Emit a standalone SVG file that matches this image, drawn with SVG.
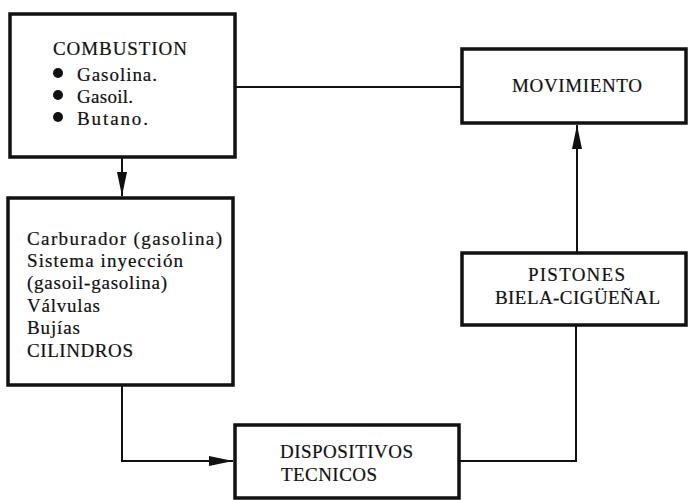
<svg xmlns="http://www.w3.org/2000/svg" width="688" height="500" viewBox="0 0 688 500">
<style>
.box{fill:#fff;stroke:#111;stroke-width:3.5}
.conn{fill:none;stroke:#111;stroke-width:2}
text{font-family:"Liberation Serif","Times New Roman",serif;font-size:19px;fill:#111;stroke:#111;stroke-width:0.2}
</style>
<defs>
<marker id="arr" markerUnits="userSpaceOnUse" markerWidth="26" markerHeight="12" refX="24" refY="5" orient="auto">
<path d="M0,0 L24,5 L0,10 Z" fill="#111"/>
</marker>
</defs>
<rect width="688" height="500" fill="#fff"/>
<g id="connectors">
<path class="conn" d="M122,158 V196" marker-end="url(#arr)"/>
<path class="conn" d="M122,386 V461 H233" marker-end="url(#arr)"/>
<path class="conn" d="M460,461 H576 V326"/>
<path class="conn" d="M577,252 V125" marker-end="url(#arr)"/>
<path class="conn" d="M236,87 H461"/>
</g>
<g id="combustion">
<rect class="box" x="10" y="14" width="225" height="143"/>
<text x="53" y="55" textLength="134" lengthAdjust="spacing">COMBUSTION</text>
<circle cx="58" cy="73" r="5" fill="#111"/>
<circle cx="58" cy="95" r="5" fill="#111"/>
<circle cx="58" cy="117" r="5" fill="#111"/>
<text x="77" y="81" textLength="80" lengthAdjust="spacing">Gasolina.</text>
<text x="77" y="103" textLength="56" lengthAdjust="spacing">Gasoil.</text>
<text x="77" y="125" textLength="71" lengthAdjust="spacing">Butano.</text>
</g>
<g id="carburador">
<rect class="box" x="8" y="198" width="225" height="187"/>
<text x="27" y="245" textLength="195" lengthAdjust="spacing">Carburador (gasolina)</text>
<text x="27" y="267" textLength="156" lengthAdjust="spacing">Sistema inyección</text>
<text x="27" y="289" textLength="140" lengthAdjust="spacing">(gasoil-gasolina)</text>
<text x="27" y="312" textLength="73" lengthAdjust="spacing">Válvulas</text>
<text x="27" y="334" textLength="53" lengthAdjust="spacing">Bujías</text>
<text x="27" y="357" textLength="106" lengthAdjust="spacing">CILINDROS</text>
</g>
<g id="dispositivos">
<rect class="box" x="235" y="425" width="224" height="73"/>
<text x="280" y="458" textLength="133" lengthAdjust="spacing">DISPOSITIVOS</text>
<text x="281" y="481" textLength="96" lengthAdjust="spacing">TECNICOS</text>
</g>
<g id="pistones">
<rect class="box" x="462" y="253" width="224" height="72"/>
<text x="528" y="281" textLength="97" lengthAdjust="spacing">PISTONES</text>
<text x="495" y="304" textLength="165" lengthAdjust="spacing">BIELA-CIGÜEÑAL</text>
</g>
<g id="movimiento">
<rect class="box" x="462" y="49" width="224" height="74"/>
<text x="512" y="92" textLength="130" lengthAdjust="spacing">MOVIMIENTO</text>
</g>
</svg>
